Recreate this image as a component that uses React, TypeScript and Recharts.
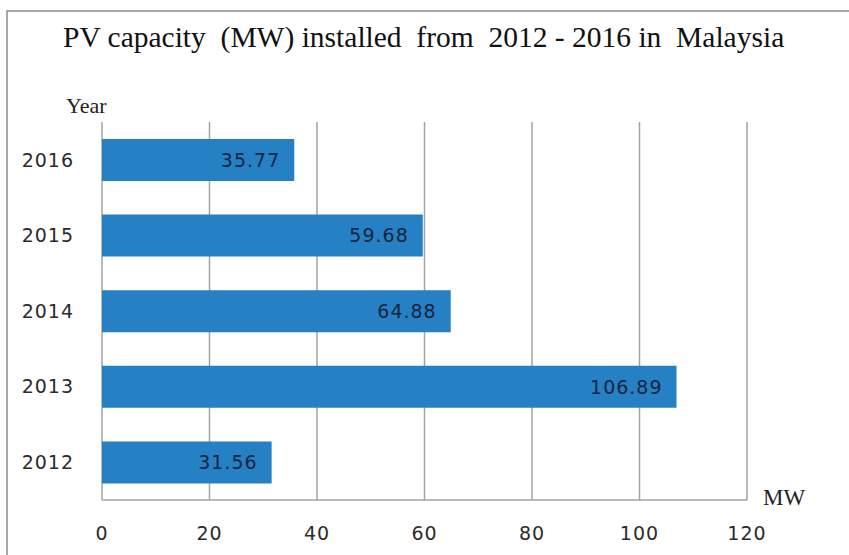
import React from 'react';
import {
  BarChart,
  Bar,
  XAxis,
  YAxis,
  CartesianGrid,
  LabelList
} from 'recharts';

const YEARS = ['2012', '2013', '2014', '2015', '2016'];
const CAPACITY_MW = [31.56, 106.89, 64.88, 59.68, 35.77];
const X_TICKS = [0, 20, 40, 60, 80, 100, 120];

const TITLE = 'PV capacity  (MW) installed  from  2012 - 2016 in  Malaysia';

const BAR_COLOR = '#2680c4';
const GRID_COLOR = '#a3a3a3';
const SANS = '"DejaVu Sans", Verdana, sans-serif';
const SERIF = '"Liberation Serif", "Times New Roman", serif';

const data = YEARS.map((year, i) => ({ year, mw: CAPACITY_MW[i] }));

export default function App() {
  return (
    <div style={{ position: 'absolute', left: 0, top: 0, width: 849, height: 555, background: '#fff', overflow: 'hidden' }}>
      <BarChart
        width={849}
        height={555}
        data={data}
        layout="vertical"
        margin={{ top: 122, right: 102, bottom: 0, left: 0 }}
      >
        <CartesianGrid horizontal={false} stroke={GRID_COLOR} strokeWidth={1.5} />
        <XAxis
          type="number"
          domain={[0, 120]}
          ticks={X_TICKS}
          height={55}
          tickLine={false}
          tickSize={0}
          tickMargin={27}
          axisLine={{ stroke: GRID_COLOR, strokeWidth: 1.5 }}
          tick={{ fontSize: 19, fill: '#2b2b2b', fontFamily: SANS, letterSpacing: 1 }}
        />
        <YAxis
          type="category"
          dataKey="year"
          reversed
          width={102}
          tickLine={false}
          tickSize={0}
          tickMargin={28}
          axisLine={false}
          tick={{ fontSize: 19, fill: '#2b2b2b', fontFamily: SANS, letterSpacing: 1 }}
        />
        <Bar dataKey="mw" fill={BAR_COLOR} barSize={42} isAnimationActive={false}>
          <LabelList
            dataKey="mw"
            position="insideRight"
            offset={14}
            fill="#16253f"
            fontSize={19}
            fontFamily={SANS}
            letterSpacing={1}
          />
        </Bar>
      </BarChart>
      <svg width={849} height={555} style={{ position: 'absolute', left: 0, top: 0, pointerEvents: 'none' }}>
        <rect x={7} y={11} width={900} height={600} fill="none" stroke="#8c8c8c" strokeWidth={1.5} />
        <text x={63} y={47} fontFamily={SERIF} fontSize={29.5} fill="#111" style={{ whiteSpace: 'pre' }}>
          {TITLE}
        </text>
        <text x={66} y={113} fontFamily={SERIF} fontSize={22} fill="#222">Year</text>
        <text x={763} y={505} fontFamily={SERIF} fontSize={23} fill="#222">MW</text>
      </svg>
    </div>
  );
}
